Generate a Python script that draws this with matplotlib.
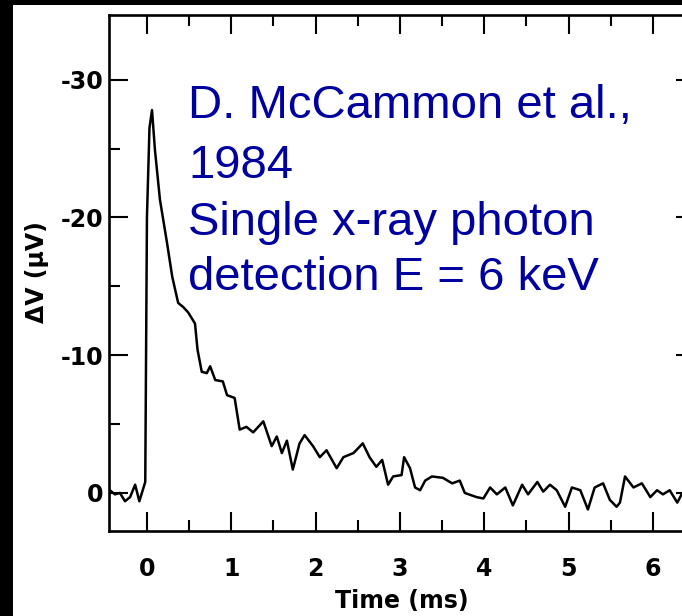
import matplotlib
matplotlib.use("Agg")
import matplotlib.pyplot as plt
from matplotlib.patches import Rectangle
from matplotlib.ticker import MultipleLocator

# Data: time (ms) and voltage change (microvolts)
time_ms = [-0.44, -0.38, -0.32, -0.26, -0.20, -0.14, -0.09, -0.05, -0.02, 0.00,
           0.03, 0.06, 0.095, 0.154, 0.237, 0.30, 0.37, 0.43, 0.49, 0.57,
           0.60, 0.65, 0.71, 0.75, 0.81, 0.90, 0.95, 1.04, 1.10, 1.18,
           1.26, 1.38, 1.48, 1.54, 1.60, 1.66, 1.73, 1.81, 1.87, 1.97,
           2.05, 2.13, 2.25, 2.33, 2.45, 2.56, 2.64, 2.72, 2.79, 2.86,
           2.92, 3.02, 3.05, 3.12, 3.18, 3.24, 3.30, 3.38, 3.51, 3.62,
           3.71, 3.77, 3.91, 3.99, 4.07, 4.15, 4.25, 4.34, 4.45, 4.52,
           4.63, 4.70, 4.78, 4.86, 4.96, 5.04, 5.14, 5.23, 5.31, 5.41,
           5.49, 5.57, 5.61, 5.67, 5.77, 5.87, 5.97, 6.05, 6.12, 6.20,
           6.29, 6.35, 6.42]
delta_v = [-0.2, 0.1, 0.0, 0.6, 0.3, -0.6, 0.6, -0.2, -0.8, -20.0,
           -26.5, -27.8, -24.9, -21.3, -18.2, -15.7, -13.8, -13.5, -13.1, -12.3,
           -10.4, -8.8, -8.7, -9.2, -8.2, -8.1, -7.1, -6.9, -4.6, -4.8,
           -4.4, -5.2, -3.4, -4.1, -2.9, -3.8, -1.7, -3.6, -4.2, -3.4,
           -2.6, -3.1, -1.8, -2.6, -2.9, -3.6, -2.6, -1.9, -2.4, -0.6,
           -1.2, -1.3, -2.6, -1.8, -0.4, -0.2, -0.9, -1.2, -1.1, -0.7,
           -0.9, 0.0, 0.3, 0.4, -0.4, 0.1, -0.4, 0.9, -0.6, 0.1,
           -0.8, -0.1, -0.6, -0.2, 1.0, -0.4, -0.2, 1.2, -0.4, -0.7,
           0.5, 1.0, 0.7, -1.2, -0.4, -0.7, 0.3, -0.2, 0.1, -0.2,
           0.7, 0.0, 0.4]

x_ticks = [0, 1, 2, 3, 4, 5, 6]
x_tick_labels = ["0", "1", "2", "3", "4", "5", "6"]
y_ticks = [-30, -20, -10, 0]
y_tick_labels = ["-30", "-20", "-10", "0"]

annotation_lines = ["D. McCammon et al.,", "1984",
                    "Single x-ray photon", "detection E = 6 keV"]

W, H = 682, 616
fig = plt.figure(figsize=(W / 100, H / 100), dpi=100, facecolor="black")

# white scanned page area
fig.patches.append(Rectangle((13 / W, 0), 1 - 13 / W, 1 - 5 / H,
                             transform=fig.transFigure, facecolor="white",
                             edgecolor="none", zorder=-5))

left, right, top, bottom = 109, 695, 15, 531
ax = fig.add_axes([left / W, 1 - bottom / H, (right - left) / W, (bottom - top) / H])
ax.set_zorder(2)
ax.set_facecolor("white")

ax.plot(time_ms, delta_v, color="black", lw=1.8, solid_joinstyle="round")

ax.set_xlim(-0.45, 6.5)
ax.set_ylim(2.76, -34.7)

ax.set_xticks(x_ticks)
ax.set_xticklabels(x_tick_labels)
ax.set_yticks(y_ticks)
ax.set_yticklabels(y_tick_labels)
ax.xaxis.set_minor_locator(MultipleLocator(0.5))
ax.yaxis.set_minor_locator(MultipleLocator(5))

for s in ax.spines.values():
    s.set_linewidth(1.9)

ax.tick_params(which="both", direction="in", top=True, right=True, width=1.5,
               colors="black")
ax.tick_params(which="major", length=14)
ax.tick_params(which="minor", length=8)
ax.tick_params(axis="x", which="major", pad=19, labelsize=17)
ax.tick_params(axis="y", which="major", pad=4, labelsize=17)
for lab in ax.get_xticklabels() + ax.get_yticklabels():
    lab.set_fontweight("bold")

ax.set_xlabel("Time (ms)", fontsize=17, fontweight="bold")
ax.xaxis.set_label_coords(0.5, -0.112)
ax.set_ylabel("ΔV (μV)", fontsize=17, fontweight="bold")
ax.yaxis.set_label_coords(-0.103, 0.502)

baselines = [118, 178, 235, 290]
for line, b in zip(annotation_lines, baselines):
    t = fig.text(188 / W, 1 - b / H, line, color="#0000A0", fontsize=34,
                 family=["Liberation Sans", "DejaVu Sans"], va="baseline", ha="left")
    t.set_zorder(5)

fig.savefig("out.png", dpi=100, facecolor="black")
